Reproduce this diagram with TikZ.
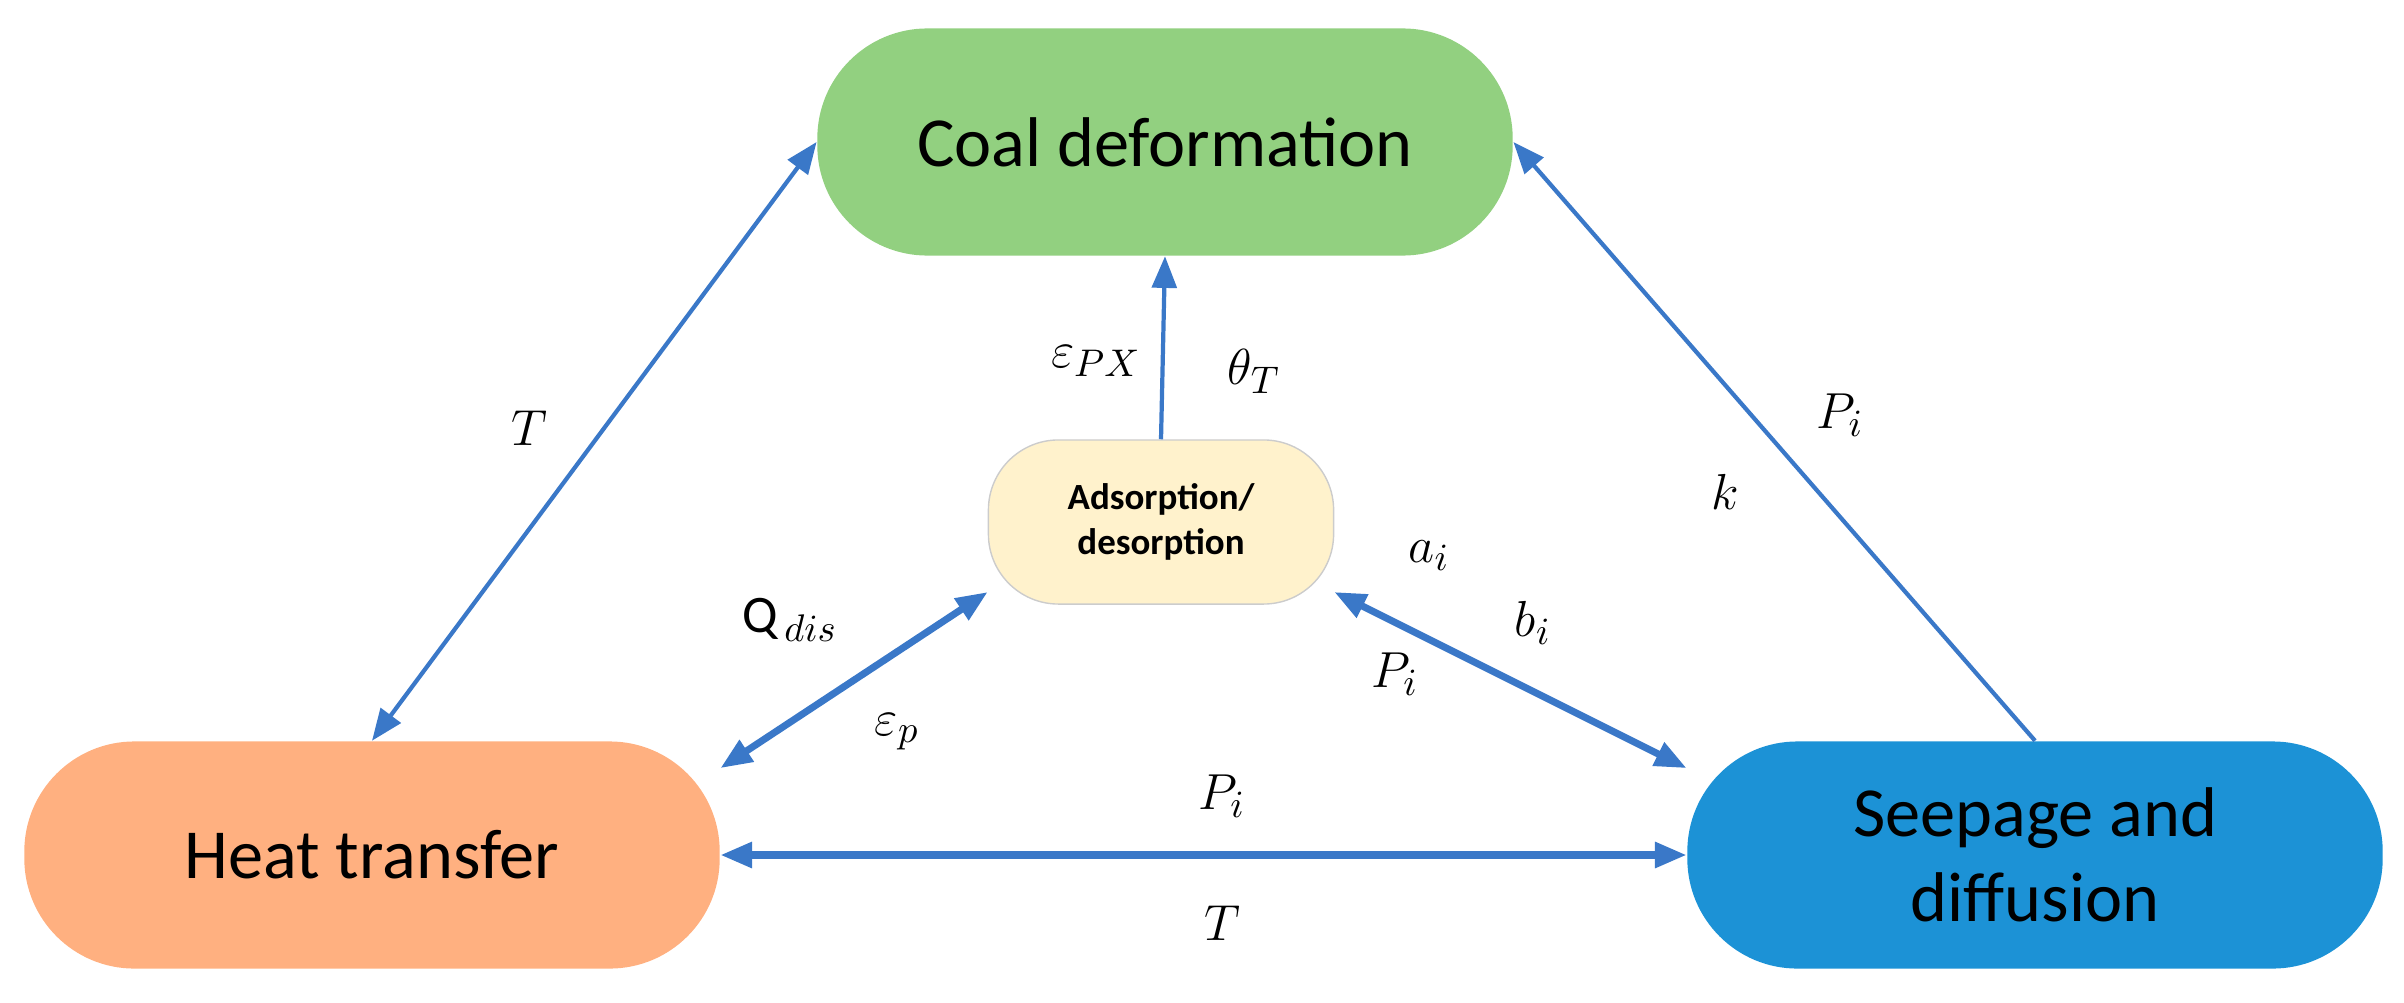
\documentclass[tikz,border=0pt]{standalone}
\usepackage{fontspec}
\setmainfont{Carlito}
\usetikzlibrary{arrows.meta}
\definecolor{coalgreen}{RGB}{146,208,128}
\definecolor{heatorange}{RGB}{255,176,128}
\definecolor{seepblue}{RGB}{28,146,214}
\definecolor{adsyellow}{RGB}{255,242,204}
\definecolor{linkblue}{RGB}{58,120,200}
\tikzset{
    x=0.01cm, y=0.01cm,
    every process/.style={
        rectangle,
        draw=none,
        rounded corners=1.1cm,
        minimum width=6.95cm,
        minimum height=2.27cm,
        align=center,
        font=\fontsize{20}{24}\selectfont
    },
    sorption/.style={
        rectangle,
        draw=gray!40,
        fill=adsyellow,
        rounded corners=0.7cm,
        minimum width=3.45cm,
        minimum height=1.64cm,
        align=center,
        font=\fontsize{10.5}{13}\selectfont\bfseries
    },
    link/.style={
        draw=linkblue,
        line width=1.2pt,
        {Triangle[length=9pt,width=7pt]}-{Triangle[length=9pt,width=7pt]}
    },
    thick link/.style={
        link,
        line width=2pt
    },
    one way/.style={
        draw=linkblue,
        line width=1.2pt,
        -{Triangle[length=9pt,width=7pt]}
    },
    label text/.style={
        font=\fontsize{15}{18}\selectfont
    }
}

\begin{document}
\begin{tikzpicture}
    \useasboundingbox (0,0) rectangle (2404,1002);
    \node[every process, fill=coalgreen] (coal) at (1165,860) {Coal deformation};
    \node[every process, fill=heatorange] (heat) at (372,147) {Heat transfer};
    \node[every process, fill=seepblue] (seep) at (2035,147) {Seepage and\\diffusion};
    \node[sorption] (ads) at (1161,480) {Adsorption/\\desorption};

    \draw[link] (heat.north) -- (coal.west);
    \draw[one way] (seep.north) -- (coal.east);
    \draw[one way] (ads.north) -- (coal.south);
    \draw[thick link] (heat.14) -- (ads.202);
    \draw[thick link] (ads.338) -- (seep.166);
    \draw[thick link] (heat.east) -- (seep.west);

    \node[label text] (tleft) at (529,574) {$T$};
    \node[label text] (epx) at (1096,641) {$\varepsilon_{PX}$};
    \node[label text] (thetat) at (1254,631) {$\theta_T$};
    \node[label text] (piright) at (1840,587) {$P_i$};
    \node[label text] (kperm) at (1725,510) {$k$};
    \node[label text] (qdis) at (790,382) {$\mathrm{Q}_{\,dis}$};
    \node[label text] (epsp) at (897,270) {$\varepsilon_{p}$};
    \node[label text] (ai) at (1429,446) {$a_i$};
    \node[label text] (bi) at (1533,379) {$b_i$};
    \node[label text] (pimid) at (1395,328) {$P_i$};
    \node[label text] (pibottom) at (1222,206) {$P_i$};
    \node[label text] (tbottom) at (1222,79) {$T$};
\end{tikzpicture}
\end{document}
